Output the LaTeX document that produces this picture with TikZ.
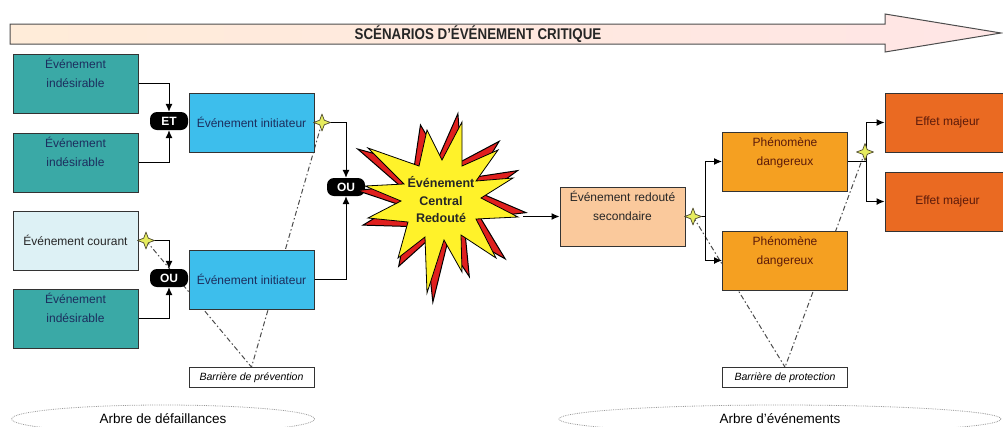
\documentclass[tikz,border=0pt]{standalone}
\usepackage{fontspec}
\setmainfont{Liberation Sans}
\usepackage{tikz}
\usetikzlibrary{shapes.geometric, arrows.meta, backgrounds}

\definecolor{sarcelle}{HTML}{3AA9A6}
\definecolor{bleuinit}{HTML}{3DBEEC}
\definecolor{bleupale}{HTML}{DDF1F5}
\definecolor{peche}{HTML}{FAC99C}
\definecolor{orangephd}{HTML}{F5A021}
\definecolor{orangeeff}{HTML}{EA6A22}
\definecolor{jaunecer}{HTML}{FFF22A}
\definecolor{rougecer}{HTML}{E0201E}
\definecolor{etoile}{HTML}{E6EC5E}
\definecolor{marine}{HTML}{1C2E5E}
\definecolor{brique}{HTML}{5B1A0A}

% contour of the central burst, around (0,0)
\newcommand{\contourcer}{(21,-78) -- (21,-34) -- (57,-50) -- (35,-19) -- (72,-22) -- (40,-2)
  -- (77,17) -- (35,19) -- (55,58) -- (20,35) -- (21,72) -- (3,40) -- (-14,93) -- (-16,37)
  -- (-43,58) -- (-33,22) -- (-73,18) -- (-40,1) -- (-76,-14) -- (-37,-16) -- (-73,-52)
  -- (-22,-34) -- (-14,-70) -- (1,-40) -- cycle}
% four point sparkle on a named coordinate
\newcommand{\etinc}[1]{\filldraw[etincelle] (#1) +(0,-8.5) -- +(2.3,-2.3) -- +(8.5,0)
  -- +(2.3,2.3) -- +(0,8.5) -- +(-2.3,2.3) -- +(-8.5,0) -- +(-2.3,-2.3) -- cycle;}

\begin{document}
\begin{tikzpicture}[x=1pt, y=-1pt,
  evt/.style={draw=black!80, line width=1pt, minimum width=125pt, minimum height=59pt,
    inner sep=2pt, font=\fontsize{12}{18.5}\selectfont, align=center},
  deuxl/.style={text width=118pt, text height=10pt, text depth=40pt},
  porte/.style={rectangle, rounded corners=7pt, fill=black, text=white,
    font=\bfseries\fontsize{12}{12}\selectfont, minimum width=38pt,
    minimum height=18pt, inner sep=1pt},
  etincelle/.style={fill=etoile, draw=black!60!olive, line width=0.7pt, line join=round},
  barriere/.style={draw=black!80, line width=0.8pt, minimum width=125pt, minimum height=20pt,
    inner sep=0pt, font=\itshape\fontsize{10.5}{10.5}\selectfont},
  arbre/.style={ellipse, draw=black!40, densely dotted, line width=0.8pt, minimum height=28pt,
    font=\fontsize{13.5}{13.5}\selectfont},
  lien/.style={black, line width=1pt, -{Latex[length=8pt,width=7pt]}},
  ligne/.style={black, line width=1pt},
  barr/.style={black!70, line width=1pt, dash pattern=on 5pt off 2.5pt on 1.5pt off 2.5pt},
]
\useasboundingbox (0,0) rectangle (1003,426);

% title arrow
\shade[left color=orange!15, middle color=orange!60, right color=red!10, draw=black!70,
  line width=1pt]
  (10,24) -- (885,24) -- (885,14) -- (1001,33) -- (885,52) -- (885,44) -- (10,44) -- cycle;
\node[font=\bfseries\fontsize{15.5}{15.5}\selectfont, text=black!85] (titre) at (478,34)
  {\scalebox{0.86}[1]{SCÉNARIOS D'ÉVÉNEMENT CRITIQUE}};

% fault tree
\node[evt, deuxl, fill=sarcelle, text=marine] (ind1) at (75.5,83.5) {Événement\\indésirable};
\node[evt, deuxl, fill=sarcelle, text=marine] (ind2) at (75.5,162.5) {Événement\\indésirable};
\node[evt, fill=bleupale, text=black!85] (cour) at (75.5,240.5) {Événement courant};
\node[evt, deuxl, fill=sarcelle, text=marine] (ind3) at (75.5,318.5) {Événement\\indésirable};
\node[porte] (et) at (169,121) {ET};
\node[porte] (ou1) at (169,278) {OU};
\node[evt, fill=bleuinit, text=marine] (init1) at (251.5,122.5) {Événement initiateur};
\node[evt, fill=bleuinit, text=marine] (init2) at (251.5,279.5) {Événement initiateur};
\node[porte] (ou2) at (346,187) {OU};

% central event
\begin{scope}[shift={(441,200)}, rotate=4, scale=1.09]
  \filldraw[fill=rougecer, draw=black, line width=1pt] \contourcer;
\end{scope}
\begin{scope}[shift={(441,200)}]
  \filldraw[fill=jaunecer, draw=black, line width=0.8pt] \contourcer;
\end{scope}
\node[font=\bfseries\fontsize{12.5}{17.5}\selectfont, align=center, text=black!85] (cer)
  at (441,200) {Événement\\Central\\Redouté};
\coordinate (cer-e) at (523,216.5);

% event tree
\node[evt, deuxl, fill=peche, text=black!85] (sec) at (622.5,216.5) {Événement redouté\\secondaire};
\node[evt, deuxl, fill=orangephd, text=brique] (phd1) at (785,161.5) {Phénomène\\dangereux};
\node[evt, deuxl, fill=orangephd, text=brique] (phd2) at (785,260.5) {Phénomène\\dangereux};
\node[evt, fill=orangeeff, text=brique] (eff1) at (947.5,122.5) {Effet majeur};
\node[evt, fill=orangeeff, text=brique] (eff2) at (947.5,201.5) {Effet majeur};

% barriers
\node[barriere] (prev) at (251.5,377.5) {Barrière de prévention};
\node[barriere] (prot) at (785,377.5) {Barrière de protection};
\node[arbre, minimum width=303pt] (ad) at (163,419) {Arbre de défaillances};
\node[arbre, minimum width=442pt] (ae) at (780,419) {Arbre d'événements};

% links
\draw[lien] (ind1.east) -| (et.north);
\draw[lien] (ind2.east) -| (et.south);
\draw[lien] (cour.east) -| (ou1.north);
\draw[lien] (ind3.east) -| (ou1.south);
\draw[lien] (init1.east) -| (ou2.north);
\draw[lien] (init2.east) -| (ou2.south);
\draw[lien] (cer-e) -- (sec.west);
\draw[ligne] (sec.east) -- ++(20,0) coordinate (f1);
\draw[lien] (f1) |- (phd1.west);
\draw[lien] (f1) |- (phd2.west);
\draw[ligne] (phd1.east) -- ++(18,0) coordinate (f2);
\draw[lien] (f2) |- (eff1.west);
\draw[lien] (f2) |- (eff2.west);

% sparkles
\coordinate (s1) at (322,122.5);
\coordinate (s2) at (146,240.5);
\coordinate (s3) at (693,216.5);
\coordinate (s4) at (865,152);
\etinc{s1} \etinc{s2} \etinc{s3} \etinc{s4}

% barrier lines, behind the boxes
\begin{pgfonlayer}{background}
  \draw[barr] (s1) -- (prev.north);
  \draw[barr] (s2) -- (prev.north);
  \draw[barr] (s3) -- (prot.north);
  \draw[barr] (s4) -- (prot.north);
\end{pgfonlayer}
\end{tikzpicture}
\end{document}
